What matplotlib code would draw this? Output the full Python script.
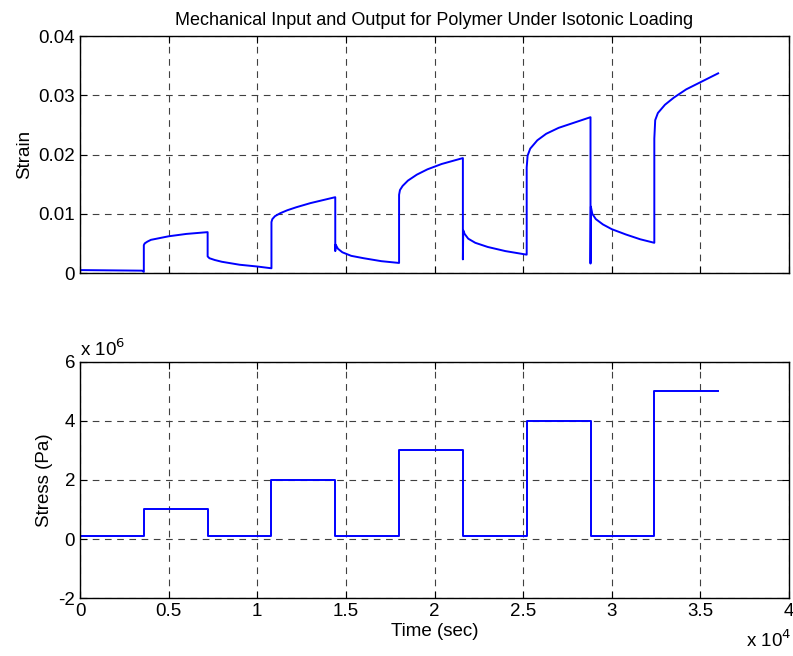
import matplotlib.pyplot as plt
from matplotlib.ticker import FuncFormatter

plt.rcParams['font.family'] = ['Liberation Sans', 'DejaVu Sans']

# strain response, time in seconds (vertical jumps repeat the time value)
strain_t = [0, 3500, 3600,
            3600, 3650, 3800, 4000, 4500, 5000, 6000, 7200,
            7200, 7300, 7600, 8000, 9000, 10000, 10800,
            10800, 10850, 11000, 11300, 11700, 12200, 13000, 14400,
            14400, 14420, 14550, 14800, 15300, 16000, 17000, 18000,
            18000, 18050, 18200, 18500, 19000, 19600, 20400, 21600,
            21600, 21620, 21700, 21900, 22300, 23000, 24000, 25200,
            25200, 25250, 25400, 25800, 26300, 27000, 27900, 28800,
            28800, 28820, 28900, 29100, 29500, 30000, 30800, 31600, 32400,
            32400, 32450, 32600, 33000, 33500, 34200, 35000, 36000]
strain_v = [0.0005, 0.0004, 0.0002,
            0.0047, 0.0050, 0.0053, 0.0056, 0.0059, 0.0062, 0.0066, 0.0069,
            0.0028, 0.0025, 0.0022, 0.0019, 0.0014, 0.0011, 0.0008,
            0.0086, 0.0091, 0.0096, 0.0101, 0.0106, 0.0111, 0.0118, 0.0128,
            0.0037, 0.0048, 0.0041, 0.0035, 0.0029, 0.0025, 0.0020, 0.0017,
            0.0132, 0.0140, 0.0147, 0.0156, 0.0166, 0.0175, 0.0184, 0.0194,
            0.0023, 0.0072, 0.0066, 0.0058, 0.0051, 0.0044, 0.0037, 0.0031,
            0.0178, 0.0198, 0.0210, 0.0224, 0.0235, 0.0245, 0.0254, 0.0263,
            0.0016, 0.0112, 0.0100, 0.0091, 0.0082, 0.0074, 0.0065, 0.0057, 0.0051,
            0.0227, 0.0258, 0.0270, 0.0284, 0.0296, 0.0310, 0.0322, 0.0337]

# applied stress, piecewise constant between edges (Pa)
stress_edges = [0, 3600, 7200, 10800, 14400, 18000, 21600, 25200, 28800, 32400, 36000]
stress_levels = [0.1e6, 1.0e6, 0.1e6, 2.0e6, 0.1e6, 3.0e6, 0.1e6, 4.0e6, 0.1e6, 5.0e6]

fig = plt.figure(figsize=(7.93, 6.56), dpi=100)
ax1 = fig.add_axes([0.1009, 0.5838, 0.8941, 0.3613])
ax2 = fig.add_axes([0.1009, 0.0884, 0.8941, 0.3598])

blue = '#0000ff'
ax1.plot(strain_t, strain_v, color=blue, lw=1.4)
ax2.step(stress_edges, stress_levels + [stress_levels[-1]], where='post', color=blue, lw=1.4)

for ax in (ax1, ax2):
    ax.set_xlim(0, 40000)
    ax.set_xticks([0, 5000, 10000, 15000, 20000, 25000, 30000, 35000, 40000])
    ax.grid(True, color='0.25', linestyle=(0, (6, 5)), lw=0.8)
    ax.tick_params(direction='in', top=True, right=True, length=5, labelsize=13.5)
    for s in ax.spines.values():
        s.set_linewidth(1.0)

ax1.set_ylim(0, 0.04)
ax1.set_yticks([0, 0.01, 0.02, 0.03, 0.04])
ax1.yaxis.set_major_formatter(FuncFormatter(lambda v, p: '0' if v == 0 else f'{v:.2f}'))
ax1.tick_params(labelbottom=False)
ax1.set_ylabel('Strain', fontsize=13.5)
ax1.set_title('Mechanical Input and Output for Polymer Under Isotonic Loading', fontsize=13, pad=8)

ax2.set_ylim(-2e6, 6e6)
ax2.set_yticks([-2e6, 0, 2e6, 4e6, 6e6])
ax2.yaxis.set_major_formatter(FuncFormatter(lambda v, p: f'{v / 1e6:g}'))
ax2.xaxis.set_major_formatter(FuncFormatter(lambda v, p: f'{v / 1e4:g}'))
ax2.set_ylabel('Stress (Pa)', fontsize=13.5)
ax2.set_xlabel('Time (sec)', fontsize=13.5, labelpad=2)

ax2.text(0.0, 1.01, r'x 10$^{6}$', transform=ax2.transAxes, fontsize=13.5, va='bottom', ha='left')
fig.text(0.998, 0.008, r'x 10$^{4}$', fontsize=13.5, va='bottom', ha='right')

fig.savefig('out.png', dpi=100)
